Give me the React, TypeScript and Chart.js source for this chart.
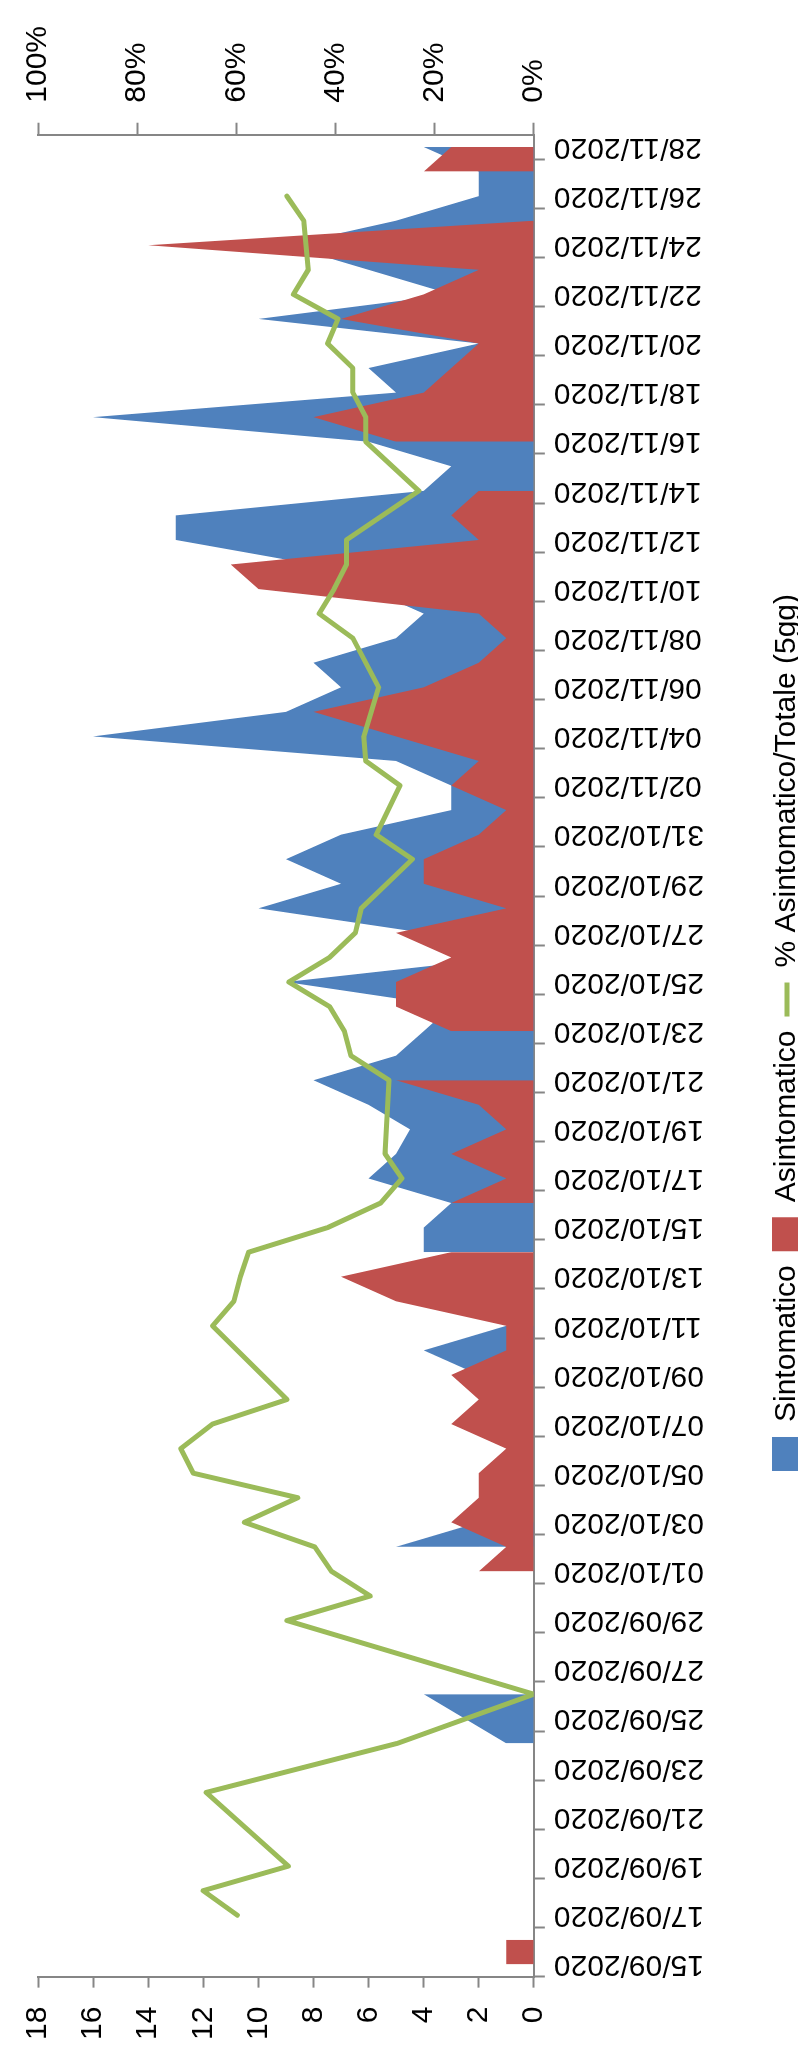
import React, { useEffect, useRef } from 'react';
import { Chart, registerables } from 'chart.js';

Chart.register(...registerables);

// Category labels (one per day)
const dates: string[] = [
  '15/09/2020', '16/09/2020', '17/09/2020', '18/09/2020', '19/09/2020', '20/09/2020', '21/09/2020', '22/09/2020',
  '23/09/2020', '24/09/2020', '25/09/2020', '26/09/2020', '27/09/2020', '28/09/2020', '29/09/2020', '30/09/2020',
  '01/10/2020', '02/10/2020', '03/10/2020', '04/10/2020', '05/10/2020', '06/10/2020', '07/10/2020', '08/10/2020',
  '09/10/2020', '10/10/2020', '11/10/2020', '12/10/2020', '13/10/2020', '14/10/2020', '15/10/2020', '16/10/2020',
  '17/10/2020', '18/10/2020', '19/10/2020', '20/10/2020', '21/10/2020', '22/10/2020', '23/10/2020', '24/10/2020',
  '25/10/2020', '26/10/2020', '27/10/2020', '28/10/2020', '29/10/2020', '30/10/2020', '31/10/2020',
  '01/11/2020', '02/11/2020', '03/11/2020', '04/11/2020', '05/11/2020', '06/11/2020', '07/11/2020', '08/11/2020',
  '09/11/2020', '10/11/2020', '11/11/2020', '12/11/2020', '13/11/2020', '14/11/2020', '15/11/2020', '16/11/2020',
  '17/11/2020', '18/11/2020', '19/11/2020', '20/11/2020', '21/11/2020', '22/11/2020', '23/11/2020', '24/11/2020',
  '25/11/2020', '26/11/2020', '27/11/2020', '28/11/2020',
];

// Sintomatico (blue area), null = blank day
const sintomatico: (number | null)[] = [
  null, null, null, null, null, null, null, null, null, 1,
  2.5, 4, null, null, null, null, null, 5, 2, null,
  null, null, null, null, 2, 4, 1, null, null, 4,
  4, 3, 6, 5, 4.5, 6, 8, 5, 4, 3,
  9, 1, 4, 10, 7, 9, 7, 3, 3, 5,
  16, 9, 7, 8, 5, 4, 6, 8, 13, 13,
  4, 3, 6, 16, 5, 6, 2, 10, 3, 6,
  9, 5, 2, 2, 4,
];

// Asintomatico (red area), null = blank day
const asintomatico: (number | null)[] = [
  1, 1, null, null, null, null, null, null, null, null,
  null, null, null, null, null, null, 2, 1, 3, 2,
  2, 1, 3, 2, 3, 1, 1, 5, 7, 3,
  null, 3, 1, 3, 1, 2, 5, null, 3, 5,
  5, 3, 5, 1, 4, 4, 2, 1, 3, 2,
  5, 8, 4, 2, 1, 2, 10, 11, 2, 3,
  2, null, 5, 8, 4, 3, 2, 7, 4, 2,
  14, 0, null, 4, 3,
];

// % Asintomatico/Totale (5gg), in percent
const percentuale: (number | null)[] = [
  null, null, 59.8, 66.7, 49.5, null, null, 66.1, null, 27.5,
  null, 0, null, null, 49.8, 33, 40.8, 44.2, 58.4, 47.6,
  68.7, 71.2, 64.8, 49.8, null, null, 64.8, 60.5, 59.2, 57.5,
  41.6, 30.9, 26.6, 30, null, null, 29.2, 36.9, 38.2, 41.2,
  49.4, 41.2, 36, 34.8, null, 24.5, 31.8, null, 27, 33.9,
  34.3, null, 31.3, null, 36.5, 43.3, 40.3, 37.8, 37.8, null,
  23.2, null, 33.9, 33.9, 36.5, 36.5, 41.6, 39.5, 48.5, 45.5,
  null, 46.4, 49.8, null, null,
];

const W = 2071;
const H = 812;
const AXIS = '#868686';
const FONT = "'Liberation Sans', Arial, sans-serif";

export default function App() {
  const ref = useRef<HTMLCanvasElement>(null);

  useEffect(() => {
    const toPts = (arr: (number | null)[]) => arr.map((y, i) => ({ x: i, y }));
    const tickValues: number[] = [];
    for (let i = 0; i < dates.length; i += 2) {
      tickValues.push(i - 0.5, i);
    }

    Chart.defaults.font.family = FONT;
    Chart.defaults.font.size = 30;
    Chart.defaults.color = '#000';

    const chart = new Chart(ref.current as HTMLCanvasElement, {
      type: 'line',
      data: {
        datasets: [
          {
            label: 'Sintomatico',
            data: toPts(sintomatico),
            backgroundColor: '#4F81BD',
            borderColor: '#4F81BD',
            borderWidth: 0,
            fill: 'origin',
            pointRadius: 0,
            pointStyle: 'rect',
            spanGaps: false,
            tension: 0,
            order: 2,
            yAxisID: 'y',
          },
          {
            label: 'Asintomatico',
            data: toPts(asintomatico),
            backgroundColor: '#C0504D',
            borderColor: '#C0504D',
            borderWidth: 0,
            fill: 'origin',
            pointRadius: 0,
            pointStyle: 'rect',
            spanGaps: false,
            tension: 0,
            order: 1,
            yAxisID: 'y',
          },
          {
            label: '% Asintomatico/Totale (5gg)',
            data: toPts(percentuale),
            backgroundColor: '#9BBB59',
            borderColor: '#9BBB59',
            borderWidth: 5,
            borderJoinStyle: 'round',
            borderCapStyle: 'round',
            fill: false,
            pointRadius: 0,
            pointStyle: 'line',
            spanGaps: true,
            tension: 0,
            order: 0,
            yAxisID: 'y1',
          },
        ],
      },
      options: {
        responsive: false,
        maintainAspectRatio: false,
        animation: false,
        devicePixelRatio: 1,
        events: [],
        layout: { padding: { left: 12, right: 6, top: 25, bottom: 0 } },
        plugins: {
          tooltip: { enabled: false },
          legend: {
            display: true,
            position: 'bottom',
            labels: {
              usePointStyle: true,
              pointStyleWidth: 34,
              boxHeight: 30,
              padding: 14,
              color: '#000',
              font: { size: 30, family: FONT },
              sort: (a: any, b: any) => a.datasetIndex - b.datasetIndex,
            },
          },
        },
        scales: {
          x: {
            type: 'linear',
            min: -0.5,
            max: dates.length - 0.5,
            afterBuildTicks: (scale: any) => {
              scale.ticks = tickValues.map((v) => ({ value: v }));
            },
            afterFit: (scale: any) => {
              scale.height += 45;
            },
            ticks: {
              autoSkip: false,
              minRotation: 90,
              maxRotation: 90,
              padding: 9,
              color: '#000',
              font: { size: 30, family: FONT },
              callback: (v: any) => (Number.isInteger(v) && v % 2 === 0 ? dates[v] : ''),
            },
            grid: {
              drawOnChartArea: false,
              tickLength: 11,
              tickWidth: 2,
              tickColor: (ctx: any) =>
                ctx.tick && Number.isInteger(ctx.tick.value) ? 'rgba(0,0,0,0)' : AXIS,
            },
            border: { display: true, color: AXIS, width: 2 },
          },
          y: {
            type: 'linear',
            position: 'left',
            min: 0,
            max: 18,
            ticks: { stepSize: 2, padding: 19, color: '#000', font: { size: 30, family: FONT } },
            grid: { drawOnChartArea: false, tickLength: 11, tickWidth: 2, tickColor: AXIS },
            border: { display: true, color: AXIS, width: 2 },
          },
          y1: {
            type: 'linear',
            position: 'right',
            min: 0,
            max: 100,
            ticks: {
              stepSize: 20,
              padding: 20,
              color: '#000',
              font: { size: 30, family: FONT },
              callback: (v: any) => `${v}%`,
            },
            grid: { drawOnChartArea: false, tickLength: 12, tickWidth: 2, tickColor: AXIS },
            border: { display: true, color: AXIS, width: 2 },
          },
        },
      } as any,
    });
    return () => chart.destroy();
  }, []);

  return (
    <div
      style={{
        position: 'absolute',
        left: 0,
        top: 0,
        width: 798,
        height: 2071,
        overflow: 'hidden',
        background: '#fff',
      }}
    >
      <div
        style={{
          position: 'absolute',
          left: 0,
          top: 0,
          width: W,
          height: H,
          transformOrigin: '0 0',
          transform: `translate(0px, ${W}px) rotate(-90deg)`,
        }}
      >
        <canvas ref={ref} width={W} height={H} style={{ display: 'block', width: W, height: H }} />
      </div>
    </div>
  );
}
